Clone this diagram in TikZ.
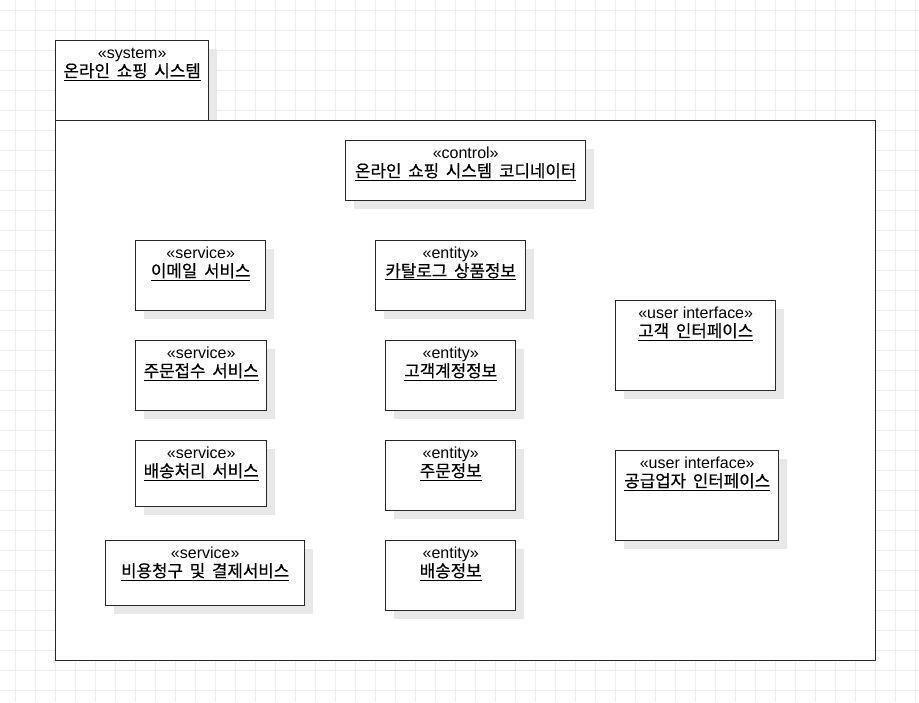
\documentclass[tikz,border=0pt]{standalone}
\usepackage{fontspec}
\setmainfont{Liberation Sans}
\newfontfamily\kr[WordSpace=1.8,FakeBold=0.5]{Noto Sans CJK KR}
\usetikzlibrary{shadows}
\definecolor{gridline}{RGB}{238,238,238}
\definecolor{shade}{RGB}{232,232,232}
\definecolor{edge}{RGB}{40,40,40}

\begin{document}
\begin{tikzpicture}[x=1pt,y=-1pt,
  pkg/.style={rectangle,draw=edge,line width=1.4pt,fill=white,anchor=north west,inner sep=0pt},
  cls/.style={pkg,drop shadow={shadow xshift=8pt,shadow yshift=-8pt,fill=shade,opacity=1}},
  st/.style={anchor=base,yshift=-18.5pt,inner sep=0pt,font=\fontsize{16}{18}\selectfont},
  nm/.style={anchor=base,yshift=-37pt,inner sep=0pt,font=\fontsize{16.8}{18}\selectfont\kr}]

% background grid
\useasboundingbox (0,0) rectangle (919,702);
\fill[white] (0,0) rectangle (919,702);
\foreach \gx in {15,35,...,915} \draw[gridline,line width=1pt] (\gx,0) -- (\gx,702);
\foreach \gy in {10,30,...,690} \draw[gridline,line width=1pt] (0,\gy) -- (919,\gy);

% package
\path (55,40) node[cls,minimum width=153pt,minimum height=80pt,
  label={[st]north:«system»},label={[nm]north:\underline{온라인 쇼핑 시스템}}](tab){};
\path (55,120) node[pkg,minimum width=820pt,minimum height=540pt](body){};

% control
\path (345,140) node[cls,minimum width=240pt,minimum height=60pt,
  label={[st]north:«control»},label={[nm]north:\underline{온라인 쇼핑 시스템 코디네이터}}](coord){};

% services
\path (135,240) node[cls,minimum width=130pt,minimum height=70pt,
  label={[st]north:«service»},label={[nm]north:\underline{이메일 서비스}}](email){};
\path (135,340) node[cls,minimum width=131pt,minimum height=70pt,
  label={[st]north:«service»},label={[nm]north:\underline{주문접수 서비스}}](order){};
\path (135,440) node[cls,minimum width=131pt,minimum height=66pt,
  label={[st]north:«service»},label={[nm]north:\underline{배송처리 서비스}}](ship){};
\path (105,540) node[cls,minimum width=199pt,minimum height=65pt,
  label={[st]north:«service»},label={[nm]north:\underline{비용청구 및 결제서비스}}](bill){};

% entities
\path (375,240) node[cls,minimum width=150pt,minimum height=70pt,
  label={[st]north:«entity»},label={[nm]north:\underline{카탈로그 상품정보}}](catalog){};
\path (385,340) node[cls,minimum width=130pt,minimum height=70pt,
  label={[st]north:«entity»},label={[nm]north:\underline{고객계정정보}}](account){};
\path (385,440) node[cls,minimum width=130pt,minimum height=70pt,
  label={[st]north:«entity»},label={[nm]north:\underline{주문정보}}](orderinfo){};
\path (385,540) node[cls,minimum width=130pt,minimum height=70pt,
  label={[st]north:«entity»},label={[nm]north:\underline{배송정보}}](shipinfo){};

% user interfaces
\path (615,300) node[cls,minimum width=160pt,minimum height=90pt,
  label={[st]north:«user interface»},label={[nm]north:\underline{고객 인터페이스}}](custui){};
\path (615,450) node[cls,minimum width=163pt,minimum height=90pt,
  label={[st]north:«user interface»},label={[nm]north:\underline{공급업자 인터페이스}}](supui){};

\end{tikzpicture}
\end{document}
